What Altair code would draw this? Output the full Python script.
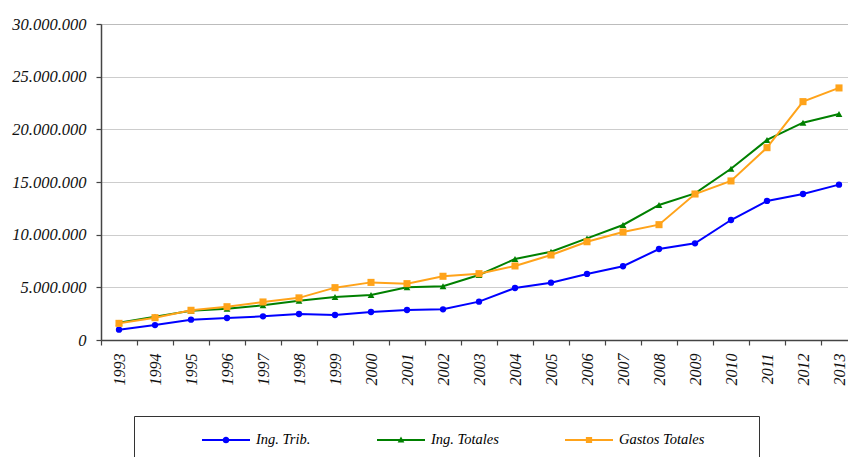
import altair as alt
import pandas as pd

years = list(range(1993, 2014))
ing_trib = [980000, 1420000, 1930000, 2090000, 2250000, 2470000, 2370000, 2660000,
            2850000, 2910000, 3640000, 4940000, 5440000, 6270000, 7000000, 8640000,
            9180000, 11390000, 13200000, 13860000, 14750000]
ing_totales = [1650000, 2220000, 2780000, 2970000, 3290000, 3730000, 4080000, 4270000,
               5000000, 5100000, 6170000, 7690000, 8380000, 9650000, 10920000, 12820000,
               13920000, 16260000, 18990000, 20630000, 21460000]
gastos_totales = [1580000, 2120000, 2820000, 3160000, 3610000, 4000000, 4970000, 5470000,
                  5350000, 6050000, 6300000, 7030000, 8070000, 9330000, 10250000, 10950000,
                  13860000, 15100000, 18260000, 22630000, 23930000]
series_names = ["Ing. Trib.", "Ing. Totales", "Gastos Totales"]
series_values = [ing_trib, ing_totales, gastos_totales]
series_colors = ["#0000FF", "#008000", "#FFA31A"]
plot_shapes = ["circle", "triangle-up", "square"]
plot_sizes = [40, 46, 50]
y_ticks = [0, 5000000, 10000000, 15000000, 20000000, 25000000, 30000000]

# legend symbols: line segment with the marker in its middle (unit path, filled);
# the trailing zero-area segment only stretches the legend frame downwards
seg = "M-1,-0.042L1,-0.042L1,0.042L-1,0.042Z"
tail = "M0,1.0L0.001,1.0Z"
legend_paths = [
    seg + "M0.14,0A0.14,0.14,0,1,1,-0.14,0A0.14,0.14,0,1,1,0.14,0Z" + tail,
    seg + "M0,-0.15L0.14,0.1L-0.14,0.1Z" + tail,
    seg + "M-0.13,-0.13L0.13,-0.13L0.13,0.13L-0.13,0.13Z" + tail,
]

rows = []
for name, vals in zip(series_names, series_values):
    for yr, v in zip(years, vals):
        rows.append({"year": yr, "value": v, "series": name})
df = pd.DataFrame(rows)

x_tick_values = sorted(years + [yr - 0.5 for yr in years])

FONT = "Liberation Serif"
pad_right = "\u00a0" * 15 + "\u200b"

x_enc = alt.X(
    "year:Q",
    scale=alt.Scale(domain=[1992.5, 2013.25], nice=False, zero=False),
    axis=alt.Axis(
        title=None,
        values=x_tick_values,
        labelExpr="datum.value % 1 ? '' : format(datum.value, 'd')",
        tickOpacity={"condition": {"test": "datum.value % 1 === 0", "value": 0}, "value": 1},
        labelAngle=270,
        labelFont=FONT,
        labelFontStyle="italic",
        labelFontSize=16,
        labelColor="#111111",
        labelPadding=8,
        labelOverlap=False,
        labelFlush=False,
        tickSize=5,
        tickColor="#444444",
        tickWidth=1.2,
        domainColor="#444444",
        domainWidth=1.5,
        grid=False,
    ),
)
y_enc = alt.Y(
    "value:Q",
    scale=alt.Scale(domain=[0, 30000000], nice=False),
    axis=alt.Axis(
        title=None,
        values=y_ticks,
        labelExpr="replace(format(datum.value, ','), regexp(',', 'g'), '.')",
        labelFont=FONT,
        labelFontStyle="italic",
        labelFontSize=16.5,
        labelColor="#111111",
        labelPadding=10,
        tickSize=5,
        tickColor="#444444",
        tickWidth=1.2,
        domainColor="#444444",
        domainWidth=1.5,
        grid=True,
        gridColor="#9a9a9a",
        gridDash=[1, 1],
        gridWidth=1,
    ),
)

base = alt.Chart(df)
layers = []
for name, col, shp, sz in zip(series_names, series_colors, plot_shapes, plot_sizes):
    sub = base.transform_filter(alt.datum.series == name)
    layers.append(sub.mark_line(color=col, strokeWidth=2).encode(x=x_enc, y=y_enc))
    layers.append(
        sub.mark_point(color=col, shape=shp, filled=True, size=sz, opacity=1).encode(x=x_enc, y=y_enc)
    )

legend_layer = base.mark_point(filled=True, size=0, opacity=1).encode(
    x=x_enc,
    y=y_enc,
    color=alt.Color(
        "series:N",
        scale=alt.Scale(domain=series_names, range=series_colors),
        legend=alt.Legend(
            title=" ",
            titleOrient="left",
            titlePadding=68,
            orient="none",
            legendX=33,
            legendY=392,
            direction="horizontal",
            columnPadding=66,
            labelOffset=6,
            labelFont=FONT,
            labelFontStyle="italic",
            labelFontSize=14.5,
            labelColor="#000000",
            labelLimit=400,
            labelExpr="datum.label == 'Gastos Totales' ? datum.label + '" + pad_right + "' : datum.label",
            symbolSize=2304,
            symbolOpacity=1,
            symbolStrokeWidth=0,
            strokeColor="#333333",
            padding=0,
        ),
    ),
    shape=alt.Shape(
        "series:N",
        scale=alt.Scale(domain=series_names, range=legend_paths),
    ),
)

chart = (
    alt.layer(*layers, legend_layer)
    .properties(
        width=747,
        height=316,
        autosize=alt.AutoSizeParams(type="none"),
        padding={"left": 93, "top": 16, "right": 0, "bottom": 117},
    )
    .configure_view(stroke=None)
    .configure(background="white")
)

chart.save("out.html", embed_options={"renderer": "svg", "actions": False})
